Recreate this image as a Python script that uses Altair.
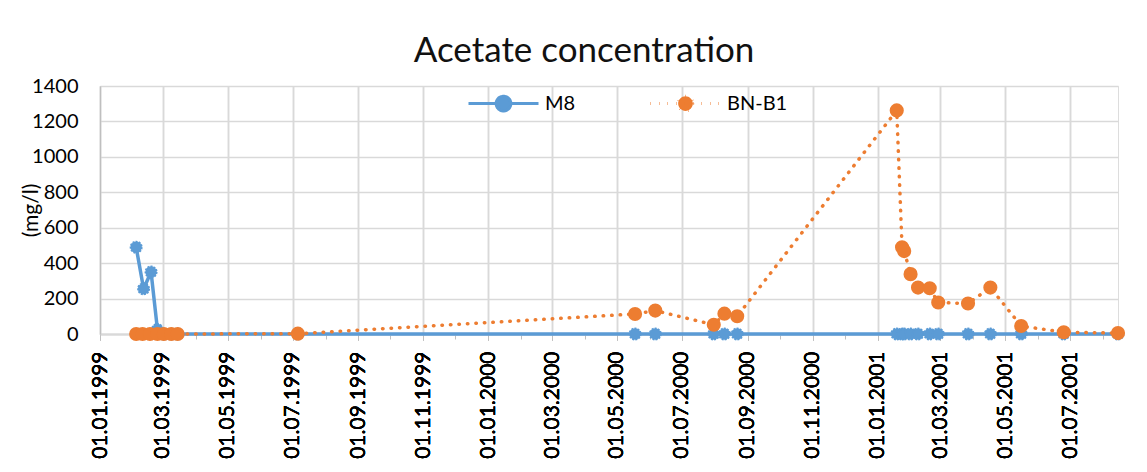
import altair as alt
import pandas as pd

# ---- data ----
m8_dates = ["1999-02-04", "1999-02-11", "1999-02-18", "1999-02-24", "1999-03-02",
            "1999-03-09", "1999-03-15", "1999-07-06", "2000-05-18", "2000-06-06",
            "2000-07-31", "2000-08-10", "2000-08-22", "2001-01-19", "2001-01-24",
            "2001-01-26", "2001-02-01", "2001-02-08", "2001-02-19", "2001-02-27",
            "2001-03-27", "2001-04-17", "2001-05-16", "2001-06-25", "2001-08-15"]
m8_values = [490, 255, 350, 25, 0,
             0, 0, 0, 0, 0,
             0, 0, 0, 0, 0,
             0, 0, 0, 0, 0,
             0, 0, 0, 0, 0]

bnb1_dates = ["1999-02-04", "1999-02-10", "1999-02-17", "1999-02-24", "1999-03-02",
              "1999-03-09", "1999-03-15", "1999-07-06", "2000-05-18", "2000-06-06",
              "2000-07-31", "2000-08-10", "2000-08-22", "2001-01-19", "2001-01-24",
              "2001-01-26", "2001-02-01", "2001-02-08", "2001-02-19", "2001-02-27",
              "2001-03-27", "2001-04-17", "2001-05-16", "2001-06-25", "2001-08-15"]
bnb1_values = [0, 0, 0, 0, 0,
               0, 0, 2, 113, 132,
               52, 115, 100, 1262, 490,
               468, 338, 262, 258, 178,
               172, 262, 45, 10, 5]

series_names = ["M8", "BN-B1"]
series_colors = ["#5B9BD5", "#ED7D31"]
y_ticks = [0, 200, 400, 600, 800, 1000, 1200, 1400]

df_m8 = pd.DataFrame({"date": pd.to_datetime(m8_dates), "value": m8_values, "series": "M8"})
df_bn = pd.DataFrame({"date": pd.to_datetime(bnb1_dates), "value": bnb1_values, "series": "BN-B1"})

FONT = "Lato"
BLUE, ORANGE = series_colors

x_scale = alt.Scale(domain=[alt.DateTime(year=1999, month=1, date=1),
                            alt.DateTime(year=2001, month=8, date=15)])
x_main = alt.X("date:T", scale=x_scale,
               axis=alt.Axis(orient="bottom", format="%d.%m.%Y", labelAngle=270,
                             tickCount={"interval": "month", "step": 2},
                             grid=True, gridColor="#D9D9D9", gridWidth=1.3,
                             domainColor="#D9D9D9", domainWidth=1.3,
                             tickColor="#BFBFBF", tickSize=6,
                             labelFont=FONT, labelFontSize=21, labelColor="#000000",
                             labelPadding=11, labelOverlap=False, title=None))
y_enc = alt.Y("value:Q", scale=alt.Scale(domain=[0, 1400]),
              axis=alt.Axis(values=y_ticks, format="d", labelOverlap=False,
                            grid=True, gridColor="#D9D9D9", gridWidth=1.3,
                            domainColor="#BFBFBF", domainWidth=1.3, ticks=False,
                            labelFont=FONT, labelFontSize=20, labelColor="#000000",
                            labelPadding=22, title="(mg/l)", titleFont=FONT,
                            titleFontSize=21, titleFontWeight="normal", titleColor="#000000",
                            titleX=-69, titleBaseline="middle"))

symbol_path = "M-1,0L1,0M0.21,0A0.21,0.21,0,1,1,-0.21,0A0.21,0.21,0,1,1,0.21,0Z"
legend = alt.Legend(orient="none", legendX=367, legendY=-19, direction="horizontal",
                    title=None, symbolType=symbol_path, symbolSize=4900,
                    symbolStrokeWidth=3, labelFont=FONT, labelFontSize=20,
                    labelColor="#000000", labelOffset=5, columnPadding=68,
                    symbolOpacity=1,
                    symbolDash=alt.ExprRef("datum.value === 'BN-B1' ? [0.5, 8] : [1, 0]"),
                    symbolFillColor=alt.ExprRef("scale('color', datum.value)"),
                    symbolStrokeColor=alt.ExprRef("scale('color', datum.value)"))
color = alt.Color("series:N", scale=alt.Scale(domain=series_names, range=series_colors),
                  legend=legend)

blue_line = alt.Chart(df_m8).mark_line(strokeWidth=3.5).encode(x=x_main, y=y_enc, color=color)
blue_pts = alt.Chart(df_m8).mark_point(filled=True, size=130, opacity=1, stroke=BLUE,
                                       strokeWidth=1.6, strokeDash=[2, 1.2]).encode(
    x=x_main, y=y_enc, color=color)
orange_line = alt.Chart(df_bn).mark_line(strokeWidth=3.5, strokeDash=[0.5, 8],
                                         strokeCap="round").encode(x=x_main, y=y_enc, color=color)
orange_pts = alt.Chart(df_bn).mark_point(filled=True, size=200, opacity=1).encode(
    x=x_main, y=y_enc, color=color)

minor = alt.Chart(df_m8).mark_point(opacity=0).encode(
    x=alt.X("date:T", scale=x_scale,
            axis=alt.Axis(orient="bottom", tickCount={"interval": "month", "step": 1},
                          labels=False, grid=False, domain=False, tickColor="#BFBFBF",
                          tickSize=5, title=None)),
    y=y_enc)

chart = alt.layer(minor, blue_line, blue_pts, orange_line, orange_pts).resolve_axis(
    x="independent"
).properties(
    width=1018, height=248,
    title=alt.TitleParams("Acetate concentration", font=FONT, fontSize=35,
                          fontWeight="normal", color="#111111", anchor="middle", dx=-25,
                          dy=52, offset=22, baseline="alphabetic"),
    autosize=alt.AutoSizeParams(type="none"),
    padding={"left": 92, "top": 78, "right": 10, "bottom": 126},
).configure_view(stroke=None).configure(background="white")

chart.save("out.html", embed_options={"renderer": "svg", "actions": False})
